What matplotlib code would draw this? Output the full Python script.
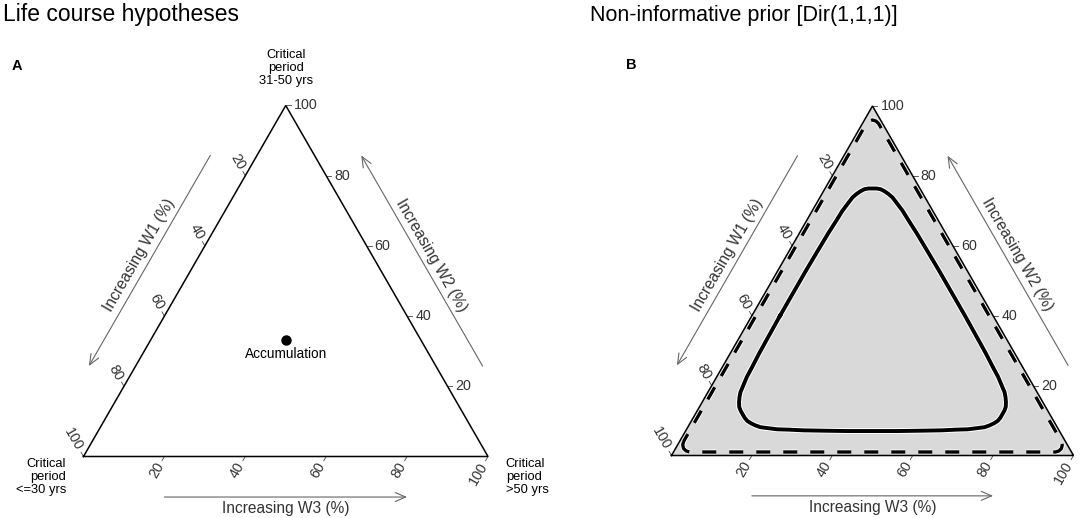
import numpy as np
import matplotlib
matplotlib.use('Agg')
import matplotlib.pyplot as plt
import matplotlib.patheffects as pe

plt.rcParams['font.family'] = ['Liberation Sans', 'DejaVu Sans']

W, H = 1084, 518
SQ = np.sqrt(3) / 2

# ---------------- data ----------------
ticks = [20, 40, 60, 80, 100]
tick_labels = ['20', '40', '60', '80', '100']

# accumulation hypothesis (equal weights, %)
accum_w1 = [33.3]
accum_w2 = [33.3]
accum_w3 = [33.3]

# inner (solid) contour of Dir(1,1,1) prior (%)
solid_w1 = [53.0, 58.8, 63.6, 67.2, 70.0, 71.9, 73.8, 74.8, 75.6, 76.2, 76.4, 76.4,
            76.4, 76.2, 75.6, 74.8, 73.8, 71.9, 70.0, 67.2, 63.6, 58.8, 53.0,
            40.0, 34.1, 29.2, 25.4, 22.5, 20.3, 18.1, 16.6, 15.2, 13.9, 12.8, 11.8,
            10.8, 9.9, 9.2, 8.6, 8.1, 7.8, 7.5, 7.4, 7.2, 7.1, 7.0,
            7.0, 7.1, 7.2, 7.4, 7.5, 7.8, 8.1, 8.6, 9.2, 9.9, 10.8, 11.8,
            12.8, 13.9, 15.2, 16.6, 18.1, 20.3, 22.5, 25.4, 29.2, 34.1, 40.0,
            53.0]
solid_w2 = [40.0, 34.1, 29.2, 25.4, 22.5, 20.3, 18.1, 16.6, 15.2, 13.9, 12.8, 11.8,
            10.8, 9.9, 9.2, 8.6, 8.1, 7.8, 7.5, 7.4, 7.2, 7.1, 7.0,
            7.0, 7.1, 7.2, 7.4, 7.5, 7.8, 8.1, 8.6, 9.2, 9.9, 10.8, 11.8,
            12.8, 13.9, 15.2, 16.6, 18.1, 20.3, 22.5, 25.4, 29.2, 34.1, 40.0,
            53.0, 58.8, 63.6, 67.2, 70.0, 71.9, 73.8, 74.8, 75.6, 76.2, 76.4, 76.4,
            76.4, 76.2, 75.6, 74.8, 73.8, 71.9, 70.0, 67.2, 63.6, 58.8, 53.0,
            40.0]
solid_w3 = [7.0, 7.1, 7.2, 7.4, 7.5, 7.8, 8.1, 8.6, 9.2, 9.9, 10.8, 11.8,
            12.8, 13.9, 15.2, 16.6, 18.1, 20.3, 22.5, 25.4, 29.2, 34.1, 40.0,
            53.0, 58.8, 63.6, 67.2, 70.0, 71.9, 73.8, 74.8, 75.6, 76.2, 76.4, 76.4,
            76.4, 76.2, 75.6, 74.8, 73.8, 71.9, 70.0, 67.2, 63.6, 58.8, 53.0,
            40.0, 34.1, 29.2, 25.4, 22.5, 20.3, 18.1, 16.6, 15.2, 13.9, 12.8, 11.8,
            10.8, 9.9, 9.2, 8.6, 8.1, 7.8, 7.5, 7.4, 7.2, 7.1, 7.0,
            7.0]

# outer (dashed) contour (%)
dash_w1 = [95.0, 95.7, 96.0, 95.7, 95.0,
           4.0, 3.0, 2.0, 1.3, 1.0,
           1.0, 1.3, 2.0, 3.0, 4.0, 95.0]
dash_w2 = [4.0, 3.0, 2.0, 1.3, 1.0,
           1.0, 1.3, 2.0, 3.0, 4.0,
           95.0, 95.7, 96.0, 95.7, 95.0, 4.0]
dash_w3 = [1.0, 1.3, 2.0, 3.0, 4.0,
           95.0, 95.7, 96.0, 95.7, 95.0,
           4.0, 3.0, 2.0, 1.3, 1.0, 1.0]


def tern(w1, w2, w3):
    w1, w2, w3 = (np.asarray(v, float) for v in (w1, w2, w3))
    t = w1 + w2 + w3
    x = (w3 + w2 / 2) / t
    y = w2 * SQ / t
    return x, y


fig = plt.figure(figsize=(W / 100, H / 100), dpi=100)


def make_ax(x0, x1, ybase, yapex):
    ax = fig.add_axes([x0 / W, (H - ybase) / H, (x1 - x0) / W, (ybase - yapex) / H])
    ax.set_xlim(0, 1)
    ax.set_ylim(0, SQ)
    ax.axis('off')
    return ax


TXT = '#333333'
ARR = '#666666'


def draw_frame(ax, fill=None):
    tx = [0, 1, 0.5, 0]
    ty = [0, 0, SQ, 0]
    if fill:
        ax.fill(tx, ty, color=fill, zorder=1, lw=0)
    ax.plot(tx, ty, color='black', lw=1.1, zorder=5, solid_joinstyle='miter', clip_on=False)
    tl, lo = 0.012, 0.02
    for v, lab in zip(ticks, tick_labels):
        f = v / 100
        # bottom axis (W3)
        px, py = f, 0.0
        d = (-0.5, -SQ)
        ax.plot([px, px + tl * d[0]], [py, py + tl * d[1]], color='#444444', lw=0.6, clip_on=False)
        ax.text(px + lo * d[0], py + lo * d[1], lab, rotation=60, ha='right', va='center',
                rotation_mode='anchor', fontsize=10.3, color=TXT)
        # left axis (W1)
        w2 = 1 - f
        px, py = w2 / 2, w2 * SQ
        d = (-0.5, SQ)
        ax.plot([px, px + tl * d[0]], [py, py + tl * d[1]], color='#444444', lw=0.6, clip_on=False)
        ax.text(px + lo * d[0], py + lo * d[1], lab, rotation=-60, ha='right', va='center',
                rotation_mode='anchor', fontsize=10.3, color=TXT)
        # right axis (W2)
        px, py = 1 - f / 2, f * SQ
        d = (1.0, 0.0)
        ax.plot([px, px + tl * d[0]], [py, py + tl * d[1]], color='#444444', lw=0.6, clip_on=False)
        ax.text(px + lo * d[0], py + lo * d[1], lab, rotation=0, ha='left', va='center',
                fontsize=10.3, color=TXT)

    aprops = dict(arrowstyle='->,head_length=0.75,head_width=0.32', color=ARR, lw=0.8,
                  shrinkA=0, shrinkB=0)
    off, loff = 0.1, 0.128
    # bottom arrow
    ax.annotate('', xy=(0.8, -off), xytext=(0.2, -off), arrowprops=aprops, annotation_clip=False)
    ax.text(0.5, -loff, 'Increasing W3 (%)', ha='center', va='center', fontsize=11.2, color=TXT)
    # left arrow (W1 increasing towards bottom-left)
    n = (-SQ, 0.5)
    p0 = (0.5 * 0.8 + off * n[0], SQ * 0.8 + off * n[1])
    p1 = (0.5 * 0.2 + off * n[0], SQ * 0.2 + off * n[1])
    ax.annotate('', xy=p1, xytext=p0, arrowprops=aprops, annotation_clip=False)
    ax.text(0.25 + loff * n[0], SQ * 0.5 + loff * n[1], 'Increasing W1 (%)', rotation=60,
            ha='center', va='center', rotation_mode='anchor', fontsize=11.2, color=TXT)
    # right arrow (W2 increasing towards top)
    n = (SQ, 0.5)
    p0 = (1 - 0.5 * 0.2 + off * n[0], SQ * 0.2 + off * n[1])
    p1 = (1 - 0.5 * 0.8 + off * n[0], SQ * 0.8 + off * n[1])
    ax.annotate('', xy=p1, xytext=p0, arrowprops=aprops, annotation_clip=False)
    ax.text(0.75 + loff * n[0], SQ * 0.5 + loff * n[1], 'Increasing W2 (%)', rotation=-60,
            ha='center', va='center', rotation_mode='anchor', fontsize=11.2, color=TXT)


# ---------------- panel A ----------------
axA = make_ax(83.5, 488.0, 456.5, 105.5)
draw_frame(axA)
ax_, ay_ = tern(accum_w1, accum_w2, accum_w3)
axA.plot(ax_, ay_, 'o', color='black', ms=6.5, zorder=6)
axA.text(ax_[0], ay_[0] - 0.037, 'Accumulation', ha='center', va='center', fontsize=9.8)
axA.text(0.5, 0.958, 'Critical\nperiod\n31-50 yrs', ha='center', va='center',
         fontsize=9.3, linespacing=1.1)
axA.text(-0.043, -0.051, 'Critical\nperiod\n<=30 yrs', ha='right', va='center',
         fontsize=9.3, linespacing=1.1, multialignment='right')
axA.text(1.044, -0.051, 'Critical\nperiod\n>50 yrs', ha='left', va='center',
         fontsize=9.3, linespacing=1.1, multialignment='left')

# ---------------- panel B ----------------
axB = make_ax(671.5, 1073.5, 455.5, 106.0)
draw_frame(axB, fill='#d9d9d9')
dx, dy = tern(dash_w1, dash_w2, dash_w3)
axB.plot(dx, dy, color='black', lw=2.4, linestyle=(0, (4.2, 3.9)), zorder=3,
         path_effects=[pe.Stroke(linewidth=3.6, foreground='white'), pe.Normal()],
         solid_joinstyle='round')
sx, sy = tern(solid_w1, solid_w2, solid_w3)
axB.plot(sx, sy, color='black', lw=2.8, zorder=4,
         path_effects=[pe.Stroke(linewidth=4.2, foreground='white'), pe.Normal()],
         solid_joinstyle='round')

# ---------------- titles ----------------
fig.text(3 / W, 1 - 20.7 / H, 'Life course hypotheses', fontsize=16.5, ha='left', va='baseline')
fig.text(590 / W, 1 - 20.5 / H, 'Non-informative prior [Dir(1,1,1)]', fontsize=15.5,
         ha='left', va='baseline')
fig.text(17.2 / W, 1 - 65.5 / H, 'A', fontsize=10.5, fontweight='bold', ha='center', va='center')
fig.text(631 / W, 1 - 65 / H, 'B', fontsize=10.5, fontweight='bold', ha='center', va='center')

fig.savefig('out.png', dpi=100)
